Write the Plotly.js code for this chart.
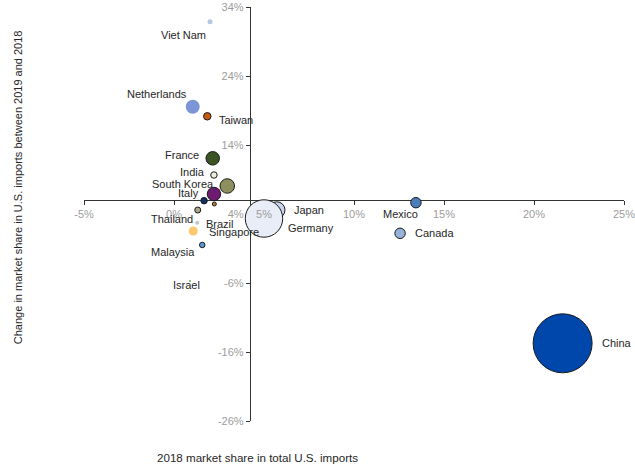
<!DOCTYPE html>
<html>
<head>
<meta charset="utf-8">
<script src="https://cdn.plot.ly/plotly-3.0.1.min.js"></script>
<style>
  html, body { margin: 0; padding: 0; background: #ffffff; }
  #chart { width: 635px; height: 465px; }
</style>
</head>
<body>
<div id="chart"></div>
<script>
// ---- Data ----
const countries = ['Viet Nam', 'Netherlands', 'Taiwan', 'France', 'India', 'South Korea', 'Italy',
  '(unlabeled A)', '(unlabeled B)', 'Thailand', 'Brazil', 'Singapore', 'Malaysia', 'Israel',
  'Japan', 'Germany', 'Mexico', 'Canada', 'China'];
// 2018 market share in total U.S. imports (%)
const share2018 = [2.0, 1.04, 1.85, 2.15, 2.22, 2.96, 2.22,
  1.67, 2.24, 1.32, 1.29, 1.07, 1.57, 0.89,
  5.71, 5.0, 13.44, 12.56, 21.59];
// Change in market share in U.S. imports between 2019 and 2018 (%)
const shareChange = [31.87, 19.55, 18.16, 12.07, 9.65, 8.06, 6.9,
  5.93, 5.45, 4.58, 2.74, 1.54, -0.49, -5.71,
  4.58, 3.35, 5.64, 1.2, -14.74];
// Bubble size value (relative units, area-proportional)
const bubbleSize = [0.25, 1.96, 0.56, 1.82, 0.42, 2.1, 1.82,
  0.42, 0.16, 0.36, 0.16, 0.81, 0.3, 0.04,
  2.7, 14.0, 1.1, 1.1, 34.8];
// Tick labels
const xTickVals = [-5, 0, 5, 10, 15, 20, 25];
const yTickVals = [-26, -16, -6, 4, 14, 24, 34];
const xTickText = xTickVals.map(v => v + '%');
const yTickText = yTickVals.map(v => v + '%');

// ---- Styling (not data) ----
const xRange = [-5, 25], yRange = [-26, 34];
const xCross = 4.21;   // where the vertical axis crosses
const yCross = 6.03;   // where the horizontal axis crosses
const fillColors = {
  'Viet Nam': '#b4c7e7', 'Netherlands': '#7b95d6', 'Taiwan': '#c55a11', 'France': '#3b5424',
  'India': '#ececdc', 'South Korea': '#8e8f5e', 'Italy': '#6c1b70', '(unlabeled A)': '#12305f',
  '(unlabeled B)': '#c0782a', 'Thailand': '#a9a98a', 'Brazil': '#c4c4c4', 'Singapore': '#ffc86a',
  'Malaysia': '#5b9bd5', 'Israel': '#70ad47', 'Japan': '#c9d5ee', 'Germany': '#e9edf7',
  'Mexico': '#4a7ebb', 'Canada': '#95b3d7', 'China': '#0047ab'
};
const noBorder = ['Viet Nam', 'Netherlands', 'Brazil', 'Singapore', 'Israel'];
const labelOffsets = { // pixel offsets of label centre from bubble centre [dx, dy(up)]
  'Viet Nam': [-27, -13], 'Netherlands': [-36, 13], 'Taiwan': [29, -4], 'France': [-31, 3],
  'India': [-21, 3], 'South Korea': [-44, 2], 'Italy': [-25, 1], 'Thailand': [-26, -9],
  'Brazil': [23, -1], 'Singapore': [41, -1], 'Malaysia': [-29, -7], 'Israel': [-4, -4],
  'Japan': [32, 0], 'Germany': [47, -10], 'Mexico': [-15, -11], 'Canada': [34, 0], 'China': [54, 0]
};

const bubbles = {
  type: 'scatter',
  mode: 'markers',
  x: share2018,
  y: shareChange,
  text: countries,
  hoverinfo: 'text',
  xaxis: 'x', yaxis: 'y',
  marker: {
    size: bubbleSize,
    sizemode: 'area',
    sizeref: 0.02,
    color: countries.map(c => fillColors[c]),
    opacity: 1,
    line: {
      color: countries.map(c => noBorder.includes(c) ? 'rgba(0,0,0,0)' : '#1a1a1a'),
      width: countries.map(c => noBorder.includes(c) ? 0 : 1)
    }
  },
  showlegend: false
};
// dummy trace so the label-only axis is rendered above the bubbles
const labelAxisHolder = {
  type: 'scatter', mode: 'markers', x: [null], y: [null],
  xaxis: 'x2', yaxis: 'y', showlegend: false, hoverinfo: 'skip'
};

const labelFont = { family: 'Liberation Sans, Arial, sans-serif', size: 11, color: '#262626' };
const annotations = countries.filter(c => labelOffsets[c]).map(c => {
  const i = countries.indexOf(c);
  return {
    x: share2018[i], y: shareChange[i], xref: 'x', yref: 'y',
    text: c, showarrow: false, xanchor: 'center', yanchor: 'middle',
    xshift: labelOffsets[c][0], yshift: labelOffsets[c][1],
    font: labelFont
  };
});
annotations.push({
  xref: 'paper', yref: 'paper', x: 0.3204, y: -0.087,
  text: '2018 market share in total U.S. imports', showarrow: false,
  xanchor: 'center', yanchor: 'middle',
  font: { family: 'Liberation Sans, Arial, sans-serif', size: 11.6, color: '#262626' }
});
annotations.push({
  xref: 'paper', yref: 'paper', x: -0.122, y: 0.565, textangle: -90,
  text: 'Change in market share in U.S. imports between 2019 and 2018', showarrow: false,
  xanchor: 'center', yanchor: 'middle',
  font: labelFont
});

const xPos = (yCross - yRange[0]) / (yRange[1] - yRange[0]);
const yPos = (xCross - xRange[0]) / (xRange[1] - xRange[0]);
const tickFont = { family: 'Liberation Sans, Arial, sans-serif', size: 11, color: '#9c9c9c' };

const layout = {
  width: 635, height: 465,
  margin: { l: 84, r: 11, t: 7, b: 44, pad: 0 },
  paper_bgcolor: '#ffffff', plot_bgcolor: '#ffffff',
  showlegend: false,
  xaxis: {
    range: xRange, anchor: 'free', position: xPos,
    tickvals: xTickVals, ticktext: xTickText, showticklabels: false,
    showgrid: false, zeroline: false, showline: true, linecolor: '#333333', linewidth: 1,
    ticks: 'outside', ticklen: 4, tickcolor: '#333333', tickwidth: 1,
    layer: 'below traces', automargin: false, fixedrange: true
  },
  xaxis2: {
    range: xRange, overlaying: 'x', anchor: 'free', position: xPos,
    tickvals: xTickVals, ticktext: xTickText, tickfont: tickFont,
    ticklabeloverflow: 'allow',
    showgrid: false, zeroline: false, showline: false,
    ticks: 'outside', ticklen: 4, tickcolor: 'rgba(0,0,0,0)',
    layer: 'above traces', automargin: false, side: 'bottom', fixedrange: true
  },
  yaxis: {
    range: yRange, anchor: 'free', position: yPos,
    tickvals: yTickVals, ticktext: yTickText, tickfont: tickFont,
    ticklabeloverflow: 'allow',
    showgrid: false, zeroline: false, showline: true, linecolor: '#333333', linewidth: 1,
    ticks: 'outside', ticklen: 4, tickcolor: '#333333', tickwidth: 1,
    layer: 'below traces', automargin: false, fixedrange: true
  },
  annotations: annotations,
  hovermode: false
};

Plotly.newPlot('chart', [labelAxisHolder, bubbles], layout, { displayModeBar: false, staticPlot: true });
</script>
</body>
</html>
